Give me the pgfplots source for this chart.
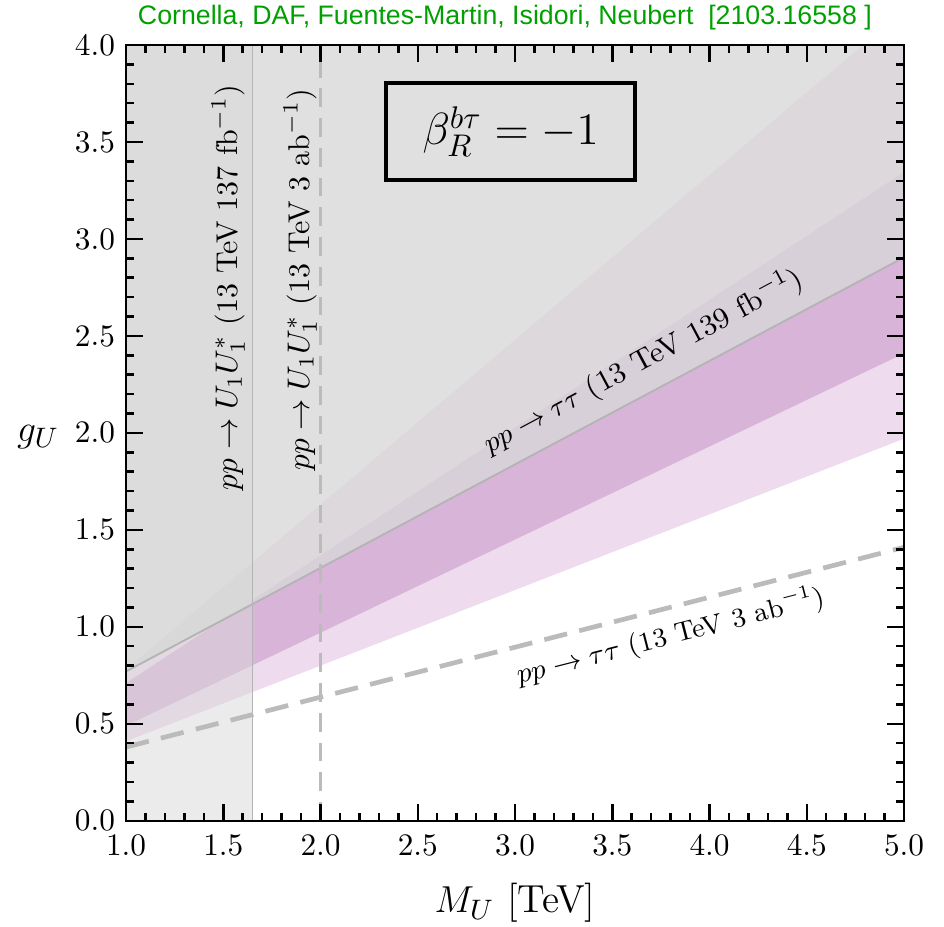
\documentclass[border=0pt]{standalone}
\usepackage{fontspec}
\newfontfamily\titlefont{Liberation Sans}
\usepackage{graphicx}
\usepackage{pgfplots}
\pgfplotsset{compat=1.18}
\definecolor{lpurp}{HTML}{EEDCEE}
\definecolor{dpurp}{HTML}{D9B4D9}
\definecolor{exgrey}{HTML}{D8D8D8}
\definecolor{lineg}{HTML}{B4B4B4}
\definecolor{dashg}{HTML}{BBBBBB}
\definecolor{titlegreen}{RGB}{0,160,0}
\begin{document}
\begin{tikzpicture}
\begin{axis}[
  scale only axis, width=248.6pt, height=247.9pt,
  xmin=1, xmax=5, ymin=0, ymax=4,
  xtick={1,1.5,...,5}, ytick={0,0.5,...,4},
  minor tick num=4,
  tick align=inside,
  major tick length=5.5pt, minor tick length=2.6pt,
  tick style={black, line width=0.8pt},
  axis line style={line width=0.8pt},
  xticklabel style={/pgf/number format/fixed, /pgf/number format/fixed zerofill, /pgf/number format/precision=1, yshift=-1pt},
  yticklabel style={/pgf/number format/fixed, /pgf/number format/fixed zerofill, /pgf/number format/precision=1},
  xlabel={$M_U$ [TeV]}, ylabel={$g_U$},
  xlabel style={at={(rel axis cs:0.5,-0.106)}, anchor=center, font=\fontsize{12.5}{15}\selectfont},
  ylabel style={at={(rel axis cs:-0.113,0.495)}, anchor=center, rotate=-90, font=\fontsize{12.5}{15}\selectfont},
  axis on top,
  clip mode=individual,
]
% light purple band (2 sigma)
\addplot[draw=none, fill=lpurp] coordinates {(1,0.41) (5,1.97) (5,4.18) (1,0.78)} -- cycle;
% dark purple band (1 sigma)
\addplot[draw=none, fill=dpurp] coordinates {(1,0.49) (5,2.41) (5,3.345) (1,0.71)} -- cycle;
% pp -> tau tau exclusion (139 fb^-1)
\addplot[draw=none, fill=exgrey, fill opacity=0.8] coordinates {(1,0.77) (5,2.905) (5,4) (1,4)} -- cycle;
% pp -> U1 U1* exclusion
\addplot[draw=none, fill=exgrey, fill opacity=0.5] coordinates {(1,0) (1.65,0) (1.65,4) (1,4)} -- cycle;
% boundary lines
\addplot[lineg, line width=0.6pt] coordinates {(1,0.77) (5,2.905)};
\addplot[lineg, line width=0.6pt] coordinates {(1.65,0) (1.65,4)};
\addplot[dashg, line width=1.1pt, dash pattern=on 6pt off 3.5pt] coordinates {(2,0) (2,4)};
\addplot[dashg, line width=1.5pt, dash pattern=on 7.5pt off 4pt] coordinates {(1,0.38) (5,1.41)};
% labels
\node[rotate=28.1, anchor=base, font=\fontsize{9.4}{11}\selectfont] at (axis cs:3.68,2.33) {$pp \to \tau\tau$ (13 TeV 139 fb$^{-1}$)};
\node[rotate=14.4, anchor=base, font=\fontsize{8.7}{10}\selectfont] at (axis cs:3.81,0.91) {$pp \to \tau\tau$ (13 TeV 3 ab$^{-1}$)};
\node[rotate=90, anchor=base, font=\fontsize{9.6}{11}\selectfont] at (axis cs:1.571,2.75) {$pp \to U_1 U_1^*$ (13 TeV 137 fb$^{-1}$)};
\node[rotate=90, anchor=base, font=\fontsize{9.6}{11}\selectfont] at (axis cs:1.941,2.79) {$pp \to U_1 U_1^*$ (13 TeV 3 ab$^{-1}$)};
\node[draw, line width=1.3pt, minimum width=79.5pt, minimum height=31pt, inner sep=0pt, font=\Large] at (axis cs:2.977,3.554) {$\beta_R^{b\tau} = -1$};
\node[anchor=center, text=titlegreen] at (rel axis cs:0.487,1.035) {\resizebox{234.5pt}{!}{\titlefont Cornella, DAF, Fuentes-Martin, Isidori, Neubert\ \ [2103.16558 ]}};
\coordinate (bbsw) at (rel axis cs:-0.162,-0.1366);
\coordinate (bbne) at (rel axis cs:1.0514,1.058);
\end{axis}
\pgfresetboundingbox
\path[use as bounding box] (bbsw) rectangle (bbne);
\end{tikzpicture}
\end{document}
